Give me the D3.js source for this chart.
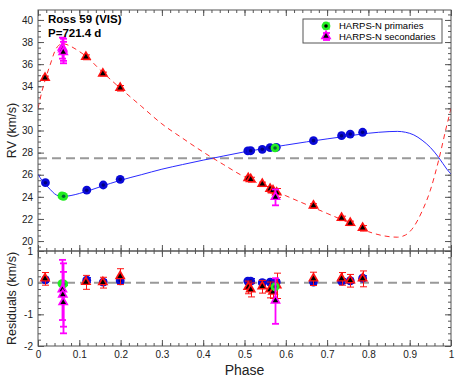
<!DOCTYPE html>
<html>
<head>
<meta charset="utf-8">
<script src="https://cdn.jsdelivr.net/npm/d3@7"></script>
<style>
  body { margin: 0; background: #fff; }
  svg text { font-family: "Liberation Sans", Arial, Helvetica, sans-serif; }
</style>
</head>
<body>
<svg id="chart" width="463" height="378"></svg>
<script>
// fitted orbit curves
var curvePhase = [0, 0.01, 0.02, 0.03, 0.04, 0.05, 0.06, 0.08, 0.10, 0.12, 0.15, 0.20, 0.25, 0.30, 0.35, 0.40, 0.45, 0.50, 0.55, 0.60, 0.65, 0.70, 0.75, 0.80, 0.85, 0.87, 0.89, 0.91, 0.93, 0.95, 0.97, 0.99, 1.0];
var curvePri = [26.05, 25.46, 25.05, 24.65, 24.28, 24.08, 24.03, 24.12, 24.3, 24.52, 24.9, 25.5, 26.0, 26.5, 26.92, 27.32, 27.7, 28.07, 28.38, 28.68, 28.97, 29.24, 29.5, 29.75, 29.9, 29.92, 29.84, 29.6, 29.12, 28.47, 27.57, 26.5, 26.05];
var curveSec = [32.0, 33.6, 34.9, 36.0, 37.1, 37.7, 37.85, 37.6, 37.15, 36.6, 35.5, 33.8, 32.2, 30.6, 29.3, 28.05, 26.9, 25.8, 24.95, 24.1, 23.3, 22.5, 21.7, 20.85, 20.4, 20.35, 20.55, 21.3, 22.7, 24.6, 27.3, 30.5, 32.0];
var gammaRV = 27.5;

// CARMENES VIS primaries (blue)
var priPhase = [0.018, 0.118, 0.158, 0.199, 0.508, 0.515, 0.543, 0.562, 0.577, 0.667, 0.735, 0.756, 0.786];
var priRV = [25.28, 24.6, 25.07, 25.58, 28.15, 28.17, 28.3, 28.45, 28.48, 29.08, 29.53, 29.68, 29.84];
var priRes = [0.09, 0.08, 0.02, 0.06, 0.05, 0.05, 0.0, 0.02, 0.02, 0.02, 0.05, 0.06, 0.14];
var priErr = [0.08, 0.08, 0.08, 0.08, 0.08, 0.08, 0.08, 0.08, 0.08, 0.08, 0.08, 0.08, 0.08];

// CARMENES VIS secondaries (red)
var secPhase = [0.017, 0.116, 0.157, 0.199, 0.509, 0.515, 0.543, 0.562, 0.569, 0.578, 0.667, 0.735, 0.756, 0.786];
var secRV = [34.72, 36.62, 35.11, 33.82, 25.65, 25.55, 25.13, 24.68, 24.55, 24.35, 23.17, 22.05, 21.6, 21.15];
var secRes = [0.12, 0.01, 0.0, 0.19, -0.15, -0.23, -0.13, -0.23, -0.3, -0.1, 0.12, 0.12, 0.06, 0.12];
var secErr = [0.2, 0.22, 0.17, 0.25, 0.2, 0.22, 0.2, 0.25, 0.2, 0.4, 0.21, 0.2, 0.2, 0.25];

// HARPS-N primaries (green)
var hPriPhase = [0.058, 0.062, 0.574];
var hPriRV = [24.08, 24.05, 28.42];
var hPriRes = [-0.03, -0.04, -0.13];
var hPriErr = [0.05, 0.05, 0.05];

// HARPS-N secondaries (magenta)
var hSecPhase = [0.059, 0.060, 0.061, 0.575];
var hSecRV = [37.45, 37.3, 37.05, 23.95];
var hSecRes = [-0.23, -0.39, -0.63, -0.58];
var hSecErr = [0.95, 1.0, 0.97, 0.72];

// tick labels
var xTicks = [0, 0.1, 0.2, 0.3, 0.4, 0.5, 0.6, 0.7, 0.8, 0.9, 1];
var rvTicks = [20, 22, 24, 26, 28, 30, 32, 34, 36, 38, 40];
var resTicks = [-2, -1, 0, 1];

var svg = d3.select("#chart");
var L = 38, R = 451, T = 10, M = 251, B = 346;
var frameCol = "#555";

var x = d3.scaleLinear().domain([0, 1]).range([L, R]);
var yTop = d3.scaleLinear().domain([19.1, 40.9]).range([M, T]);
var yBot = d3.scaleLinear().domain([-2, 1]).range([B, M]);

var noLabel = function () { return ""; };

// draw one tick row (major or minor) and strip the domain line
function ticks(gen, scale, values, size, fmt, tx, ty) {
    var ax = gen(scale).tickValues(values).tickSize(size).tickSizeOuter(0)
        .tickPadding(5).tickFormat(fmt || noLabel);
    var g = svg.append("g").attr("transform", "translate(" + tx + "," + ty + ")").call(ax);
    g.select(".domain").remove();
    g.selectAll("line").attr("stroke", frameCol);
    g.selectAll("text").attr("font-size", 10).attr("fill", "#222")
        .style("font-family", '"Liberation Sans", Arial, sans-serif');
    return g;
}

var xMinor = d3.range(0, 1.0001, 0.02);
var topMinor = d3.range(19.5, 40.9, 0.5);
var botMinor = d3.range(-2, 1.0001, 0.2);

// x ticks: top of upper panel, both sides of the divider, bottom
[[d3.axisTop, T], [d3.axisBottom, M], [d3.axisTop, M], [d3.axisBottom, B]].forEach(function (a) {
    var lab = (a[1] === B) ? function (d) { return String(d); } : null;
    ticks(a[0], x, xTicks, -6, lab, 0, a[1]);
    ticks(a[0], x, xMinor, -3, null, 0, a[1]);
});

// y ticks, left with labels and right mirrored
ticks(d3.axisLeft, yTop, rvTicks, -6, function (d) { return String(d); }, L, 0);
ticks(d3.axisLeft, yTop, topMinor, -3, null, L, 0);
ticks(d3.axisRight, yTop, rvTicks, -6, null, R, 0);
ticks(d3.axisRight, yTop, topMinor, -3, null, R, 0);
ticks(d3.axisLeft, yBot, resTicks, -6, function (d) { return String(d); }, L, 0);
ticks(d3.axisLeft, yBot, botMinor, -3, null, L, 0);
ticks(d3.axisRight, yBot, resTicks, -6, null, R, 0);
ticks(d3.axisRight, yBot, botMinor, -3, null, R, 0);

// clip for the curves
svg.append("clipPath").attr("id", "clipTop")
    .append("rect").attr("x", L).attr("y", T).attr("width", R - L).attr("height", M - T);

// systemic velocity and zero lines
svg.append("line").attr("x1", L).attr("x2", R)
    .attr("y1", yTop(gammaRV)).attr("y2", yTop(gammaRV))
    .attr("stroke", "#999").attr("stroke-width", 2).attr("stroke-dasharray", "9,5");
svg.append("line").attr("x1", L).attr("x2", R)
    .attr("y1", yBot(0)).attr("y2", yBot(0))
    .attr("stroke", "#999").attr("stroke-width", 2).attr("stroke-dasharray", "9,5");

// model curves
function curveLine(vals) {
    return d3.line()
        .x(function (d, i) { return x(curvePhase[i]); })
        .y(function (d) { return yTop(d); })
        .curve(d3.curveMonotoneX)(vals);
}
svg.append("path").attr("d", curveLine(curvePri)).attr("clip-path", "url(#clipTop)")
    .attr("fill", "none").attr("stroke", "#2a2aff").attr("stroke-width", 1);
svg.append("path").attr("d", curveLine(curveSec)).attr("clip-path", "url(#clipTop)")
    .attr("fill", "none").attr("stroke", "#ff2a2a").attr("stroke-width", 1).attr("stroke-dasharray", "5,4");

// error bar with caps, snapped to pixel centres
function errBar(g, px, y0, y1, col, w) {
    px = Math.round(px) + 0.5;
    w = w || 1;
    g.append("line").attr("x1", px).attr("x2", px).attr("y1", y0).attr("y2", y1)
        .attr("stroke", col).attr("stroke-width", w);
    [y0, y1].forEach(function (yy) {
        g.append("line").attr("x1", px - 3.5).attr("x2", px + 3.5).attr("y1", yy).attr("y2", yy)
            .attr("stroke", col).attr("stroke-width", w);
    });
}

function circleMark(g, px, py, fill, core) {
    g.append("circle").attr("cx", px).attr("cy", py).attr("r", 4.4).attr("fill", fill);
    g.append("circle").attr("cx", px).attr("cy", py).attr("r", 1.8).attr("fill", core);
}

var triBig = d3.symbol().type(d3.symbolTriangle).size(52);
var triSmall = d3.symbol().type(d3.symbolTriangle).size(13);
function triMark(g, px, py, fill) {
    g.append("path").attr("d", triBig()).attr("transform", "translate(" + px + "," + (py - 0.5) + ")").attr("fill", fill);
    g.append("path").attr("d", triSmall()).attr("transform", "translate(" + px + "," + (py - 0.3) + ")").attr("fill", "#000");
}

// plot one data set in one panel
function drawSet(yS, phases, vals, errs, kind, col, core, w) {
    var g = svg.append("g");
    phases.forEach(function (p, i) {
        errBar(g, x(p), yS(vals[i] - errs[i]), yS(vals[i] + errs[i]), col, w);
    });
    phases.forEach(function (p, i) {
        if (kind === "c") circleMark(g, x(p), yS(vals[i]), col, core);
        else triMark(g, x(p), yS(vals[i]), col);
    });
}

drawSet(yTop, priPhase, priRV, priErr, "c", "#0a0ad8", "#000080");
drawSet(yTop, secPhase, secRV, secErr, "t", "#ff1010");
drawSet(yTop, hPriPhase, hPriRV, hPriErr, "c", "#22ee22", "#063");
drawSet(yTop, hSecPhase, hSecRV, hSecErr, "t", "#ff00ff", null, 1.8);

drawSet(yBot, priPhase, priRes, priErr, "c", "#0a0ad8", "#000080");
drawSet(yBot, secPhase, secRes, secErr, "t", "#ff1010");
drawSet(yBot, hPriPhase, hPriRes, hPriErr, "c", "#22ee22", "#063");
drawSet(yBot, hSecPhase, hSecRes, hSecErr, "t", "#ff00ff", null, 1.8);

// frames
svg.append("rect").attr("x", L).attr("y", T).attr("width", R - L).attr("height", M - T)
    .attr("fill", "none").attr("stroke", frameCol);
svg.append("rect").attr("x", L).attr("y", M).attr("width", R - L).attr("height", B - M)
    .attr("fill", "none").attr("stroke", frameCol);

// titles
svg.append("text").attr("x", 48).attr("y", 23).attr("font-size", 11.5).attr("font-weight", "bold")
    .text("Ross 59 (VIS)");
svg.append("text").attr("x", 48).attr("y", 36.5).attr("font-size", 11.5).attr("font-weight", "bold")
    .text("P=721.4 d");

svg.append("text").attr("transform", "translate(16," + ((T + M) / 2) + ") rotate(-90)")
    .attr("text-anchor", "middle").attr("font-size", 12.5).attr("fill", "#222").text("RV (km/s)");
svg.append("text").attr("transform", "translate(16," + ((M + B) / 2) + ") rotate(-90)")
    .attr("text-anchor", "middle").attr("font-size", 12.5).attr("fill", "#222").text("Residuals (km/s)");
svg.append("text").attr("x", (L + R) / 2).attr("y", 375).attr("text-anchor", "middle")
    .attr("font-size", 14).attr("fill", "#222").text("Phase");

// legend
var lg = svg.append("g");
lg.append("rect").attr("x", 303).attr("y", 19).attr("width", 139).attr("height", 24)
    .attr("fill", "#fff").attr("stroke", frameCol);
errBar(lg, 326, 23, 29, "#22ee22");
circleMark(lg, 326, 26, "#22ee22", "#000");
errBar(lg, 326, 33, 40, "#ff00ff", 1.8);
triMark(lg, 326, 36.5, "#ff00ff");
lg.append("text").attr("x", 339).attr("y", 29).attr("font-size", 9.5).text("HARPS-N primaries");
lg.append("text").attr("x", 339).attr("y", 39.5).attr("font-size", 9.5).text("HARPS-N secondaries");
</script>
</body>
</html>
